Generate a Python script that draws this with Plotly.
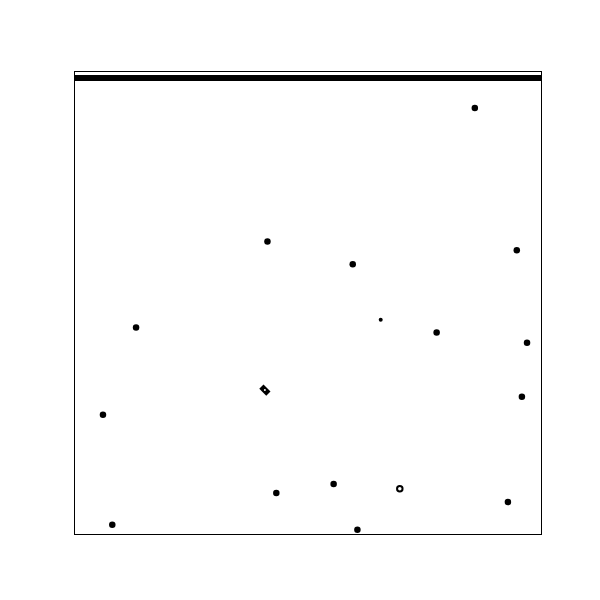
import plotly.graph_objects as go

# filled point locations
x_solid = [8.58, 4.13, 9.48, 5.96, 1.31, 7.76, 9.70, 0.60, 9.59, 4.32, 9.29, 0.80, 6.06, 5.55]
y_solid = [9.22, 6.33, 6.14, 5.84, 4.47, 4.36, 4.14, 2.58, 2.97, 0.89, 0.69, 0.20, 0.09, 1.08]
# small point
x_small = [6.56]
y_small = [4.64]
# ring-shaped location
x_ring = [6.97]
y_ring = [0.98]
# elongated ring
x_long = [4.00, 4.15]
y_long = [3.19, 3.04]
# top band level
band_x = [0, 10]
band_y = [9.87, 9.87]

fig = go.Figure()
fig.add_trace(go.Scatter(x=band_x, y=band_y, mode="lines",
                         line=dict(color="black", width=6), hoverinfo="skip"))
fig.add_trace(go.Scatter(x=x_solid, y=y_solid, mode="markers",
                         marker=dict(symbol="circle", size=6.5, color="black")))
fig.add_trace(go.Scatter(x=x_small, y=y_small, mode="markers",
                         marker=dict(symbol="circle", size=4, color="black")))
fig.add_trace(go.Scatter(x=x_ring, y=y_ring, mode="markers",
                         marker=dict(symbol="circle-open", size=5.5, color="black",
                                     line=dict(width=2, color="black"))))
fig.add_trace(go.Scatter(x=x_long, y=y_long, mode="lines",
                         line=dict(color="black", width=6)))
fig.add_trace(go.Scatter(x=[sum(x_long) / 2], y=[sum(y_long) / 2], mode="markers",
                         marker=dict(symbol="circle", size=2, color="white")))

axis = dict(range=[0, 10], showgrid=False, zeroline=False, showticklabels=False,
            ticks="", showline=True, linecolor="black", linewidth=1, mirror=True)
fig.update_layout(width=600, height=600, showlegend=False,
                  plot_bgcolor="white", paper_bgcolor="white",
                  margin=dict(l=75, r=59, t=72, b=66),
                  xaxis=axis, yaxis=axis)
fig.write_html("out.html")
